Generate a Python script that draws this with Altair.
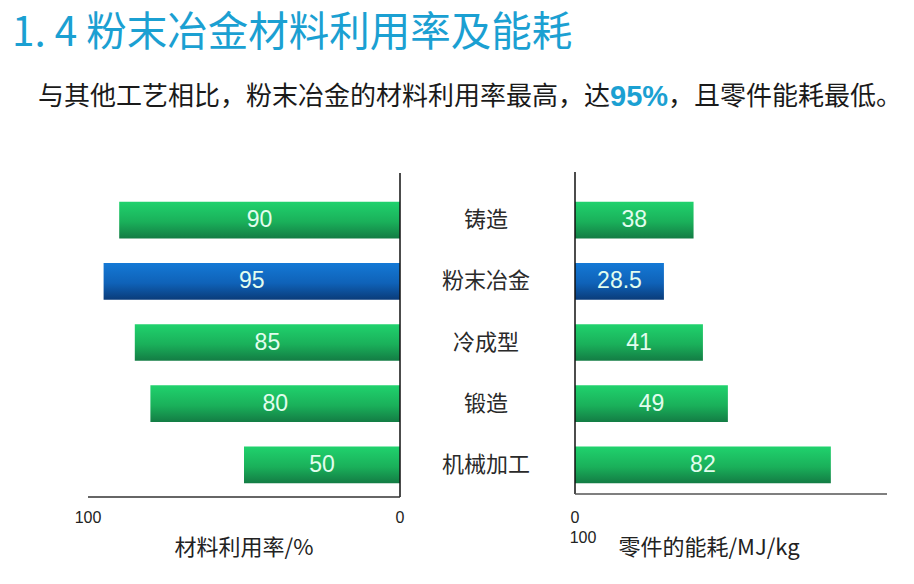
import altair as alt
import pandas as pd

# ---------------- data ----------------
categories = ["铸造", "粉末冶金", "冷成型", "锻造", "机械加工"]
utilization = [90, 95, 85, 80, 50]          # 材料利用率 %
energy = [38, 28.5, 41, 49, 82]             # 零件能耗 MJ/kg
highlight = "粉末冶金"

title_text = "1. 4 粉末冶金材料利用率及能耗"
sub_a = "与其他工艺相比，粉末冶金的材料利用率最高，达"
sub_b = "95%"
sub_c = "，且零件能耗最低。"
left_axis_title = "材料利用率/%"
right_axis_title = "零件的能耗/MJ/kg"
left_ticks = [0, 100]
left_tick_labels = ["0", "100"]
right_tick_labels = ["0", "100"]

df = pd.DataFrame({"cat": categories, "util": utilization, "energy": energy})
df["hl"] = df["cat"] == highlight
df["util_lbl"] = [f"{v:g}" for v in utilization]
df["energy_lbl"] = [f"{v:g}" for v in energy]
ticks_df = pd.DataFrame({"v": left_ticks, "t": left_tick_labels})

TEAL = "#1BA0D2"
CJK = "Noto Sans CJK SC"
LAT = "Liberation Sans"
MARGIN = 8          # page margin
PAD_TOP = 12
PAD_LEFT = 4


def yv(v):
    """page y -> local y"""
    return alt.value(v - MARGIN - PAD_TOP)


def xv(v):
    """page x -> local x"""
    return alt.value(v - MARGIN - PAD_LEFT)


def xr(v):
    return v - MARGIN - PAD_LEFT


def yr(v):
    return v - MARGIN - PAD_TOP


green = alt.Gradient(
    gradient="linear",
    stops=[alt.GradientStop(color="#20D26D", offset=0),
           alt.GradientStop(color="#1AB05A", offset=0.55),
           alt.GradientStop(color="#137C44", offset=1)],
    x1=0, x2=0, y1=0, y2=1)
blue = alt.Gradient(
    gradient="linear",
    stops=[alt.GradientStop(color="#1479D6", offset=0),
           alt.GradientStop(color="#0F62B8", offset=0.55),
           alt.GradientStop(color="#0A3C7A", offset=1)],
    x1=0, x2=0, y1=0, y2=1)

yenc = alt.Y("cat:N", sort=categories,
             scale=alt.Scale(domain=categories,
                             range=[yr(189.4), yr(495.6)],
                             paddingInner=0.4, paddingOuter=0.2),
             axis=None)

lscale = alt.Scale(domain=[0, 100], range=[xr(400), xr(88)], zero=False, nice=False)
rscale = alt.Scale(domain=[0, 100], range=[xr(575), xr(887)], zero=False, nice=False)

base = alt.Chart(df)
one = alt.Data(values=[{"k": 1}])

# ---------------- left panel ----------------
l_green = base.transform_filter("!datum.hl").mark_bar(fill=green).encode(
    x=alt.X("util:Q", scale=lscale, axis=None), x2=alt.X2Datum(0), y=yenc)
l_blue = base.transform_filter("datum.hl").mark_bar(fill=blue).encode(
    x=alt.X("util:Q", scale=lscale, axis=None), x2=alt.X2Datum(0), y=yenc)
l_text = base.transform_calculate(mid="datum.util/2").mark_text(
    font=LAT, fontSize=23, color="#E2FDEE", align="center", baseline="middle"
).encode(x=alt.X("mid:Q", scale=lscale, axis=None), y=yenc, text="util_lbl:N")
l_vline = alt.Chart(one).mark_rule(color="#111", strokeWidth=1.5).encode(
    x=alt.XDatum(0, scale=lscale, axis=None), y=yv(173), y2=yv(497))
l_hline = alt.Chart(one).mark_rule(color="#333", strokeWidth=1.5).encode(
    x=alt.XDatum(0, scale=lscale, axis=None), x2=alt.X2Datum(100), y=yv(497))
l_ticks = alt.Chart(ticks_df).mark_text(
    font=LAT, fontSize=16, color="#222", align="center", baseline="middle"
).encode(x=alt.X("v:Q", scale=lscale, axis=None), y=yv(518), text="t:N")
l_title = alt.Chart(one).mark_text(
    font=CJK, fontSize=22, color="#222", align="center", baseline="middle"
).encode(x=alt.XDatum(50, scale=lscale, axis=None), y=yv(548),
         text=alt.value(left_axis_title))

# ---------------- right panel ----------------
r_green = base.transform_filter("!datum.hl").mark_bar(fill=green).encode(
    x=alt.X("energy:Q", scale=rscale, axis=None), x2=alt.X2Datum(0), y=yenc)
r_blue = base.transform_filter("datum.hl").mark_bar(fill=blue).encode(
    x=alt.X("energy:Q", scale=rscale, axis=None), x2=alt.X2Datum(0), y=yenc)
r_text = base.transform_calculate(mid="datum.energy/2").mark_text(
    font=LAT, fontSize=23, color="#E2FDEE", align="center", baseline="middle"
).encode(x=alt.X("mid:Q", scale=rscale, axis=None), y=yenc, text="energy_lbl:N")
r_vline = alt.Chart(one).mark_rule(color="#111", strokeWidth=1.5).encode(
    x=alt.XDatum(0, scale=rscale, axis=None), y=yv(172), y2=yv(494))
r_hline = alt.Chart(one).mark_rule(color="#555", strokeWidth=1.5).encode(
    x=alt.XDatum(0, scale=rscale, axis=None), x2=alt.X2Datum(100), y=yv(494))
r_tick0 = alt.Chart(one).mark_text(
    font=LAT, fontSize=16, color="#222", align="center", baseline="middle"
).encode(x=alt.XDatum(0, scale=rscale, axis=None), y=yv(518),
         text=alt.value(right_tick_labels[0]))
r_tick100 = alt.Chart(one).mark_text(
    font=LAT, fontSize=16, color="#222", align="center", baseline="middle"
).encode(x=xv(583), y=yv(538), text=alt.value(right_tick_labels[1]))
r_title = alt.Chart(one).mark_text(
    font=CJK, fontSize=22, color="#222", align="center", baseline="middle"
).encode(x=xv(709), y=yv(548), text=alt.value(right_axis_title))

# ---------------- middle category labels ----------------
mid = base.mark_text(
    font=CJK, fontSize=22, color="#2a2a2a", align="center", baseline="middle"
).encode(x=xv(486), y=yenc, text="cat:N")

# ---------------- titles ----------------
t_main = alt.Chart(one).mark_text(
    font=CJK, fontSize=40.5, color=TEAL, align="left", baseline="middle"
).encode(x=xv(12), y=yv(34), text=alt.value(title_text))
t_a = alt.Chart(one).mark_text(
    font=CJK, fontSize=26, color="#1a1a1a", align="left", baseline="middle"
).encode(x=xv(38), y=yv(97), text=alt.value(sub_a))
t_b = alt.Chart(one).mark_text(
    font=LAT, fontSize=29, fontWeight="bold", color=TEAL, align="left", baseline="middle"
).encode(x=xv(610), y=yv(97), text=alt.value(sub_b))
t_c = alt.Chart(one).mark_text(
    font=CJK, fontSize=26, color="#1a1a1a", align="left", baseline="middle"
).encode(x=xv(668), y=yv(97), text=alt.value(sub_c))

chart = alt.layer(
    l_green, l_blue, l_text, l_vline, l_hline, l_ticks, l_title,
    r_green, r_blue, r_text, r_vline, r_hline, r_tick0, r_tick100, r_title,
    mid, t_main, t_a, t_b, t_c,
).resolve_scale(
    x="independent"
).properties(
    width=898 - PAD_LEFT, height=568 - PAD_TOP,
    autosize=alt.AutoSizeParams(type="none"),
    padding={"top": PAD_TOP, "left": PAD_LEFT, "right": 0, "bottom": 0},
).configure_view(stroke=None)

chart.save("out.html", embed_options={"renderer": "svg", "actions": False})
